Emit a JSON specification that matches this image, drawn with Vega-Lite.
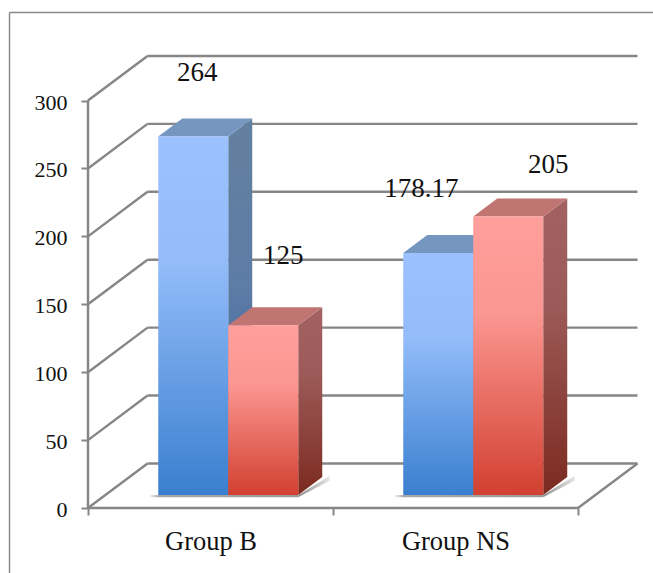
{
"$schema":"https://vega.github.io/schema/vega-lite/v6.json",
"width":552,"height":452,"autosize":"none",
"padding":{"left":88,"top":56,"right":13,"bottom":65},
"background":"white",
"config":{"view":{"stroke":null},"axis":{"grid":false,"title":null}},
"resolve":{"axis":{"x":"independent","y":"independent"}},
"datasets":{
 "bars":[
  {"group":"Group B","series":"Series 1","value":264},
  {"group":"Group B","series":"Series 2","value":125},
  {"group":"Group NS","series":"Series 1","value":178.17},
  {"group":"Group NS","series":"Series 2","value":205}],
 "ticks":[{"tick":0},{"tick":50},{"tick":100},{"tick":150},{"tick":200},{"tick":250},{"tick":300}]
},
"layer":[
 {"data":{"name":"ticks"},
  "transform":[{"calculate":"datum.tick+32.8","as":"yb"},{"calculate":"0.2429","as":"xb"},{"calculate":"2.2429","as":"xe"}],
  "mark":{"type":"rule","color":"#868686","strokeWidth":2.4},
  "encoding":{"x":{"field":"xb","type":"quantitative","scale":{"domain":[0,2.2531],"nice":false,"zero":false},
    "axis":{"values":[0,0.5,1,1.5,2],"domain":false,"tickColor":"#868686","tickWidth":2,"tickSize":7,"tickOpacity":{"condition":{"test":"datum.value % 1 !== 0","value":0},"value":1},
      "labelExpr":"datum.value==0.5?'Group B':datum.value==1.5?'Group NS':''","labelFont":"Liberation Serif","labelFontSize":26.5,"labelColor":"#111111","labelPadding":13,"labelFlush":false,"labelOverlap":false,"labelBaseline":"top"}},
   "x2":{"field":"xe"},
   "y":{"field":"yb","type":"quantitative","scale":{"domain":[0,332.8],"nice":false,"zero":false},
    "axis":{"values":[0,50,100,150,200,250,300],"domain":false,"tickColor":"#868686","tickWidth":2,"tickSize":7,"labelFont":"Liberation Serif","labelFontSize":22,"labelColor":"#111111","labelPadding":14,"labelOffset":1.5,"labelFlush":false,"labelOverlap":false}},
   "y2":{"field":"yb"}}},
 {"data":{"name":"ticks"},
  "transform":[{"calculate":"datum.tick+32.8","as":"yb"},{"calculate":"0","as":"xa"},{"calculate":"0.2429","as":"xb"}],
  "mark":{"type":"rule","color":"#868686","strokeWidth":2.4},
  "encoding":{"x":{"field":"xa","type":"quantitative","axis":null,"scale":{"domain":[0,2.2531],"nice":false,"zero":false}},"x2":{"field":"xb"},
   "y":{"field":"tick","type":"quantitative","axis":null,"scale":{"domain":[0,332.8],"nice":false,"zero":false}},"y2":{"field":"yb"}}},
 {"data":{"values":[{}]},"mark":{"type":"rule","color":"#868686","strokeWidth":2.5},
  "encoding":{"x":{"datum":0,"type":"quantitative","axis":null,"scale":{"domain":[0,2.2531],"nice":false,"zero":false}},
   "y":{"datum":0,"type":"quantitative","axis":null,"scale":{"domain":[0,332.8],"nice":false,"zero":false}},"y2":{"datum":300}}},
 {"data":{"values":[{}]},"mark":{"type":"rule","color":"#868686","strokeWidth":2.5},
  "encoding":{"x":{"datum":0,"type":"quantitative","axis":null,"scale":{"domain":[0,2.2531],"nice":false,"zero":false}},"x2":{"datum":2},
   "y":{"datum":0,"type":"quantitative","axis":null,"scale":{"domain":[0,332.8],"nice":false,"zero":false}}}},
 {"data":{"values":[{}]},"mark":{"type":"rule","color":"#868686","strokeWidth":2.4},
  "encoding":{"x":{"datum":2,"type":"quantitative","axis":null,"scale":{"domain":[0,2.2531],"nice":false,"zero":false}},"x2":{"datum":2.2429},
   "y":{"datum":0,"type":"quantitative","axis":null,"scale":{"domain":[0,332.8],"nice":false,"zero":false}},"y2":{"datum":32.8}}},
 {"data":{"values":[{}]},"mark":{"type":"rule","color":"#868686","strokeWidth":1.4},
  "encoding":{"x":{"datum":-0.3204,"type":"quantitative","axis":null,"scale":{"domain":[0,2.2531],"nice":false,"zero":false}},
   "y":{"datum":364.8,"type":"quantitative","axis":null,"scale":{"domain":[0,332.8],"nice":false,"zero":false}},"y2":{"datum":-49}}},
 {"data":{"values":[{}]},"mark":{"type":"rule","color":"#868686","strokeWidth":1.4},
  "encoding":{"x":{"datum":-0.3204,"type":"quantitative","axis":null,"scale":{"domain":[0,2.2531],"nice":false,"zero":false}},"x2":{"datum":2.32},
   "y":{"datum":364.8,"type":"quantitative","axis":null,"scale":{"domain":[0,332.8],"nice":false,"zero":false}}}},

 {"data":{"name":"bars"},
  "transform":[{"filter":"datum.series=='Series 1'"},
   {"calculate":"(datum.group=='Group B'?0:1)+0.2867-0.04","as":"xl"},
   {"calculate":"datum.xl+0.04+0.5714","as":"xr"},
   {"calculate":"9.57","as":"py0"},
   {"calculate":"8.0","as":"py1"}],
  "mark":{"type":"rect","color":{"gradient":"linear","x1":0,"y1":0,"x2":1,"y2":0,"stops":[{"offset":0,"color":"#ffffff"},{"offset":0.07,"color":"#a8a8a8"},{"offset":1,"color":"#9a9a9a"}]}},
  "encoding":{
   "x":{"field":"xl","type":"quantitative","axis":null,"scale":{"domain":[0,2.2531],"nice":false,"zero":false}},"x2":{"field":"xr"},
   "y":{"field":"py1","type":"quantitative","axis":null,"stack":null,"scale":{"domain":[0,332.8],"nice":false,"zero":false}},"y2":{"field":"py0"}}},
 {"data":{"name":"bars"},
  "transform":[{"filter":"datum.series=='Series 2'"},
   {"calculate":"(datum.group=='Group B'?0:1)+0.5724+0.2857","as":"xr"},
   {"calculate":"[0,1]","as":"e"},{"flatten":["e"]},
   {"calculate":"datum.xr+datum.e*0.128","as":"px"},
   {"calculate":"8.0+datum.e*12","as":"py0"},
   {"calculate":"9.57+datum.e*14","as":"py1"}],
  "mark":{"type":"area","color":{"gradient":"linear","x1":0,"y1":0,"x2":1,"y2":0,"stops":[{"offset":0,"color":"#8f8f8f"},{"offset":1,"color":"#e6e6e6"}]}},
  "encoding":{"detail":{"field":"group"},
   "x":{"field":"px","type":"quantitative","axis":null,"scale":{"domain":[0,2.2531],"nice":false,"zero":false}},
   "y":{"field":"py1","type":"quantitative","axis":null,"stack":null,"scale":{"domain":[0,332.8],"nice":false,"zero":false}},"y2":{"field":"py0"}}},

 {"data":{"name":"bars"},
  "transform":[{"filter":"datum.series=='Series 1'"},
   {"calculate":"(datum.group=='Group B'?0:1)+0.2867+0.2857","as":"xr"},
   {"calculate":"[0,1]","as":"e"},{"flatten":["e"]},
   {"calculate":"datum.xr+datum.e*0.098","as":"px"},
   {"calculate":"9.57+datum.e*13.26","as":"py0"},
   {"calculate":"datum.py0+datum.value","as":"py1"}],
  "mark":{"type":"area","color":{"gradient":"linear","x1":0,"y1":0,"x2":0,"y2":1,"stops":[{"offset":0,"color":"#64809f"},{"offset":0.45,"color":"#5d7ca6"},{"offset":1,"color":"#2a5b94"}]}},
  "encoding":{"detail":{"field":"group"},
   "x":{"field":"px","type":"quantitative","axis":null,"scale":{"domain":[0,2.2531],"nice":false,"zero":false}},
   "y":{"field":"py1","type":"quantitative","axis":null,"stack":null,"scale":{"domain":[0,332.8],"nice":false,"zero":false}},"y2":{"field":"py0"}}},
 {"data":{"name":"bars"},
  "transform":[{"filter":"datum.series=='Series 1'"},
   {"calculate":"(datum.group=='Group B'?0:1)+0.2867","as":"xl"},
   {"calculate":"[0,1]","as":"e"},{"flatten":["e"]},
   {"calculate":"datum.xl+datum.e*0.098","as":"px0"},
   {"calculate":"datum.px0+0.2857","as":"px1"},
   {"calculate":"9.57+datum.value+datum.e*13.26","as":"py"}],
  "mark":{"type":"area","orient":"horizontal","color":"#7596bf"},
  "encoding":{"detail":{"field":"group"},
   "x":{"field":"px0","type":"quantitative","axis":null,"stack":null,"scale":{"domain":[0,2.2531],"nice":false,"zero":false}},"x2":{"field":"px1"},
   "y":{"field":"py","type":"quantitative","axis":null,"scale":{"domain":[0,332.8],"nice":false,"zero":false}}}},
 {"data":{"name":"bars"},
  "transform":[{"filter":"datum.series=='Series 1'"},
   {"calculate":"(datum.group=='Group B'?0:1)+0.2867","as":"xl"},
   {"calculate":"datum.xl+0.2857","as":"xr"},
   {"calculate":"9.57","as":"py0"},
   {"calculate":"datum.py0+datum.value","as":"py1"}],
  "mark":{"type":"rect","color":{"gradient":"linear","x1":0,"y1":0,"x2":0,"y2":1,"stops":[{"offset":0,"color":"#9bc2ff"},{"offset":0.35,"color":"#93bcf9"},{"offset":1,"color":"#3a7fcf"}]}},
  "encoding":{
   "x":{"field":"xl","type":"quantitative","axis":null,"scale":{"domain":[0,2.2531],"nice":false,"zero":false}},"x2":{"field":"xr"},
   "y":{"field":"py1","type":"quantitative","axis":null,"stack":null,"scale":{"domain":[0,332.8],"nice":false,"zero":false}},"y2":{"field":"py0"}}},

 {"data":{"name":"bars"},
  "transform":[{"filter":"datum.series=='Series 2'"},
   {"calculate":"(datum.group=='Group B'?0:1)+0.5724+0.2857","as":"xr"},
   {"calculate":"[0,1]","as":"e"},{"flatten":["e"]},
   {"calculate":"datum.xr+datum.e*0.098","as":"px"},
   {"calculate":"9.57+datum.e*13.26","as":"py0"},
   {"calculate":"datum.py0+datum.value","as":"py1"}],
  "mark":{"type":"area","color":{"gradient":"linear","x1":0,"y1":0,"x2":0,"y2":1,"stops":[{"offset":0,"color":"#a36262"},{"offset":0.35,"color":"#9c5b59"},{"offset":1,"color":"#7c2a20"}]}},
  "encoding":{"detail":{"field":"group"},
   "x":{"field":"px","type":"quantitative","axis":null,"scale":{"domain":[0,2.2531],"nice":false,"zero":false}},
   "y":{"field":"py1","type":"quantitative","axis":null,"stack":null,"scale":{"domain":[0,332.8],"nice":false,"zero":false}},"y2":{"field":"py0"}}},
 {"data":{"name":"bars"},
  "transform":[{"filter":"datum.series=='Series 2'"},
   {"calculate":"(datum.group=='Group B'?0:1)+0.5724","as":"xl"},
   {"calculate":"[0,1]","as":"e"},{"flatten":["e"]},
   {"calculate":"datum.xl+datum.e*0.098","as":"px0"},
   {"calculate":"datum.px0+0.2857","as":"px1"},
   {"calculate":"9.57+datum.value+datum.e*13.26","as":"py"}],
  "mark":{"type":"area","orient":"horizontal","color":"#c07572"},
  "encoding":{"detail":{"field":"group"},
   "x":{"field":"px0","type":"quantitative","axis":null,"stack":null,"scale":{"domain":[0,2.2531],"nice":false,"zero":false}},"x2":{"field":"px1"},
   "y":{"field":"py","type":"quantitative","axis":null,"scale":{"domain":[0,332.8],"nice":false,"zero":false}}}},
 {"data":{"name":"bars"},
  "transform":[{"filter":"datum.series=='Series 2'"},
   {"calculate":"(datum.group=='Group B'?0:1)+0.5724","as":"xl"},
   {"calculate":"datum.xl+0.2857","as":"xr"},
   {"calculate":"9.57","as":"py0"},
   {"calculate":"datum.py0+datum.value","as":"py1"}],
  "mark":{"type":"rect","color":{"gradient":"linear","x1":0,"y1":0,"x2":0,"y2":1,"stops":[{"offset":0,"color":"#ff9f9c"},{"offset":0.35,"color":"#fb9691"},{"offset":1,"color":"#d24030"}]}},
  "encoding":{
   "x":{"field":"xl","type":"quantitative","axis":null,"scale":{"domain":[0,2.2531],"nice":false,"zero":false}},"x2":{"field":"xr"},
   "y":{"field":"py1","type":"quantitative","axis":null,"stack":null,"scale":{"domain":[0,332.8],"nice":false,"zero":false}},"y2":{"field":"py0"}}},

 {"data":{"name":"bars"},
  "transform":[
   {"calculate":"(datum.group=='Group B'?0:1)+(datum.series=='Series 1'?0.4296:0.7153)","as":"xc"},
   {"calculate":"datum.value==264?0.016:datum.value==125?0.082:datum.value==178.17?-0.069:0.163","as":"xo"},
   {"calculate":"datum.value==264?47:datum.value==125?51:datum.value==178.17?47:38","as":"yo"},
   {"calculate":"datum.xc+datum.xo","as":"lx"},
   {"calculate":"9.57+datum.value+datum.yo","as":"ly"}],
  "mark":{"type":"text","font":"Liberation Serif","fontSize":27,"color":"#111111","align":"center","baseline":"middle"},
  "encoding":{
   "x":{"field":"lx","type":"quantitative","axis":null,"scale":{"domain":[0,2.2531],"nice":false,"zero":false}},
   "y":{"field":"ly","type":"quantitative","axis":null,"scale":{"domain":[0,332.8],"nice":false,"zero":false}},
   "text":{"field":"value","type":"nominal"}}}
]
}
